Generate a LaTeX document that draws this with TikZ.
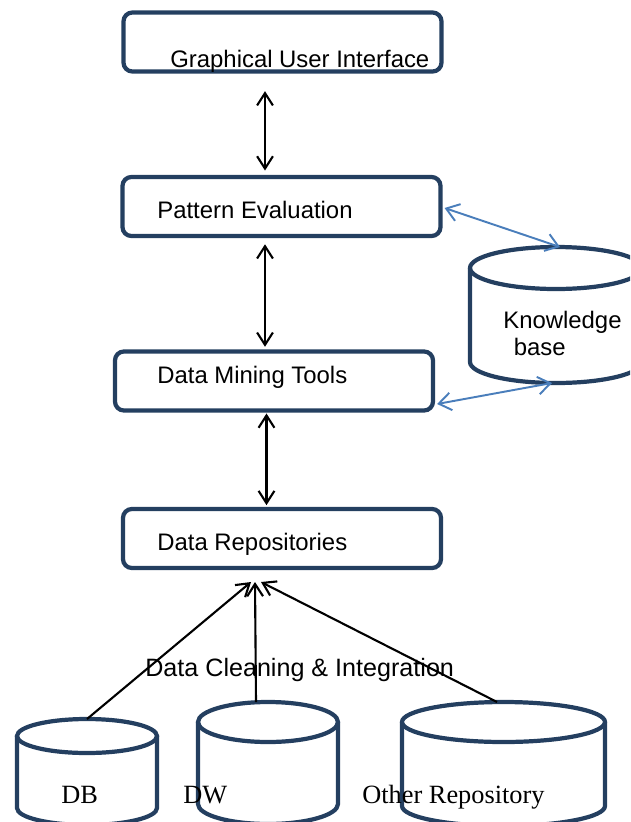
\documentclass[tikz,border=0pt]{standalone}
\usepackage{fontspec}
\setmainfont{Liberation Serif}
\setsansfont{Liberation Sans}
\usepackage{tikz}
\usetikzlibrary{arrows.meta}

\definecolor{stageblue}{RGB}{36,63,96}
\definecolor{linkblue}{RGB}{74,126,187}

\begin{document}
\begin{tikzpicture}[x=0.02cm, y=0.02cm,
	stage/.style={draw=stageblue, line width=2.4pt, rounded corners=5pt,
		minimum width=6.36cm, minimum height=1.18cm, inner sep=0pt},
	store/.style={draw=stageblue, line width=2.4pt},
	flow/.style={line width=1.2pt, {Straight Barb[length=7pt,width=9pt]}-{Straight Barb[length=7pt,width=9pt]}},
	link/.style={linkblue, line width=1.1pt, {Straight Barb[length=7pt,width=10pt]}-{Straight Barb[length=7pt,width=10pt]}},
	up/.style={line width=1.2pt, -{Straight Barb[length=7pt,width=9pt]}},
	lbl/.style={anchor=base west, inner sep=0pt, font=\sffamily\fontsize{13.6}{15.3}\selectfont},
	rlbl/.style={anchor=base west, inner sep=0pt, font=\rmfamily\fontsize{15}{18}\selectfont}]
	\useasboundingbox (0,0) rectangle (630,-822);
	\clip (0,0) rectangle (630,-822);

	\node[stage] (gui) at (282.5,-42) {};
	\node[stage] (pe) at (281.5,-206.5) {};
	\node[stage] (dmt) at (274,-381) {};
	\node[stage] (dr) at (282,-538.5) {};

	\node[lbl] (gui-t) at (170,-67) {Graphical User Interface};
	\node[lbl] (pe-t) at (157,-218) {Pattern Evaluation};
	\node[lbl] (dmt-t) at (157,-383) {Data Mining Tools};
	\node[lbl] (dr-t) at (157,-550) {Data Repositories};

	\foreach \nm/\cx/\ct/\cb/\rx/\ry in {kb/556/-268/-362/86/21, db/87/-736/-808/70/17,
		dw/268/-722/-804/70/20, other/503.5/-722/-806/101.5/20}{
		\draw[store] (\cx-\rx,\ct) -- (\cx-\rx,\cb) arc[start angle=180, end angle=360, x radius=\rx, y radius=\ry] -- (\cx+\rx,\ct);
		\draw[store] (\cx,\ct) ellipse [x radius=\rx, y radius=\ry];
		\coordinate (\nm-top) at (\cx,\ct+\ry);
		\coordinate (\nm-bot) at (\cx,\cb-\ry);
	}

	\node[lbl, align=left, anchor=base west] (kb-t) at (503,-355) {Knowledge\\\hspace*{6pt}base};
	\node[rlbl] (db-t) at (61,-803) {DB};
	\node[rlbl] (dw-t) at (183,-803) {DW};
	\node[rlbl] (other-t) at (362,-803) {Other Repository};
	\node[lbl, font=\sffamily\fontsize{14.3}{16}\selectfont] (clean) at (145,-676) {Data Cleaning \& Integration};

	\coordinate (axis) at (265,0);
	\coordinate (axis2) at (266.5,0);
	\draw[flow, shorten <=10pt, shorten >=2.5pt] (gui.south -| axis) -- (pe.north -| axis);
	\draw[flow, shorten <=3.5pt, shorten >=1.5pt] (pe.south -| axis) -- (dmt.north -| axis);
	\draw[flow, shorten <=0.5pt, shorten >=1pt] (dmt.south -| axis2) -- (dr.north -| axis2);

	\draw[link] ([xshift=0.04cm,yshift=-0.03cm]pe.east) -- ([xshift=0.08cm]kb-top);
	\draw[link] ([xshift=0.04cm,yshift=-0.46cm]dmt.east) -- ([xshift=-0.08cm]kb-bot);

	\coordinate (hub) at (255,-582);
	\draw[up] (db-top) -- ([xshift=-0.08cm]hub);
	\draw[up] ([xshift=-0.24cm]dw-top) -- (hub);
	\draw[up] ([xshift=-0.13cm]other-top) -- ([xshift=0.12cm]hub);
\end{tikzpicture}
\end{document}
